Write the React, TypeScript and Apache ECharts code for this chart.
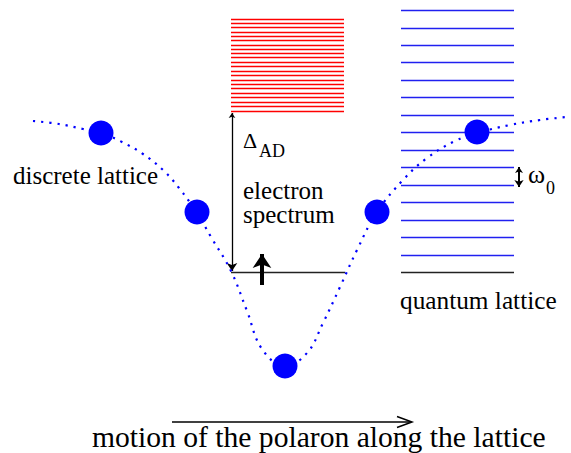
import React, { useEffect, useRef } from "react";
import * as echarts from "echarts";

// Diagram coordinates (x to the right, y downward)
const wellCurve: number[][] = [
  [33, 121], [59, 124], [83, 129], [101, 133], [122, 142], [143, 154], [163, 170],
  [179, 188], [197, 213], [211, 237], [231, 271], [247, 311], [262, 349], [285, 366],
  [307, 353], [323, 323], [340, 287], [357, 250], [377, 212], [403, 180], [427, 158],
  [455, 141], [477, 133], [510, 125], [540, 120], [567, 117],
];
const latticeSites: number[][] = [
  [101, 133], [197, 212], [285, 366], [377, 212], [477, 132],
];
const electronLevels: number[] = [
  19, 23.3, 27.7, 32, 36.3, 40.7, 45, 49.3, 53.3, 57.7, 62.3, 66.7, 71, 75.3, 80,
  84.3, 88.7, 93, 97.7, 102, 106.3, 111,
];
const electronRange: number[] = [231, 344];
const phononLevels: number[] = [
  10.7, 28, 45.3, 62.7, 80.3, 97.7, 115.3, 132.7, 150.3, 167.7, 185, 202.7, 220, 237.7, 255,
];
const phononRange: number[] = [401, 514];
const groundLevel = 272.7;
const gapArrow: number[][] = [[232, 113], [232, 271]];
const electronArrow: number[][] = [[262, 285], [262, 254]];
const omegaArrow: number[][] = [[519, 167], [519, 187]];
const motionArrow: number[][] = [[172, 422], [411, 422]];
const motionHead: number[][] = [[397, 416.5], [412, 422], [397, 427.5]];

const FONT = "Liberation Serif";

function levelLines(levels: number[], range: number[]) {
  return levels.map((y) => ({ coords: [[range[0], y], [range[1], y]] }));
}

function txt(text: string, x: number, y: number, size: number, lineHeight?: number) {
  return {
    type: "text",
    x,
    y,
    style: {
      text,
      fontSize: size,
      fontFamily: FONT,
      fill: "#000",
      textAlign: "left",
      textVerticalAlign: "middle",
      align: "left",
      verticalAlign: "middle",
      lineHeight: lineHeight ?? size,
    },
  };
}

export default function App() {
  const ref = useRef<HTMLDivElement>(null);
  useEffect(() => {
    if (!ref.current) return;
    const chart = echarts.init(ref.current, undefined, { renderer: "svg" });
    chart.setOption({
      animation: false,
      backgroundColor: "#fff",
      grid: { left: 0, right: 0, top: 0, bottom: 0 },
      xAxis: { type: "value", min: 0, max: 571, show: false },
      yAxis: { type: "value", min: 0, max: 453, inverse: true, show: false },
      series: [
        {
          type: "lines",
          coordinateSystem: "cartesian2d",
          silent: true,
          lineStyle: { color: "#ff0000", width: 1.3, opacity: 1 },
          data: levelLines(electronLevels, electronRange),
        },
        {
          type: "lines",
          coordinateSystem: "cartesian2d",
          silent: true,
          lineStyle: { color: "#2020f0", width: 1.3, opacity: 1 },
          data: levelLines(phononLevels, phononRange),
        },
        {
          type: "lines",
          coordinateSystem: "cartesian2d",
          silent: true,
          lineStyle: { color: "#222", width: 1.3, opacity: 1 },
          data: [
            { coords: [[electronRange[0], groundLevel], [electronRange[1] + 1, groundLevel]] },
            { coords: [[phononRange[0], groundLevel], [phononRange[1], groundLevel]] },
          ],
        },
        {
          type: "lines",
          coordinateSystem: "cartesian2d",
          silent: true,
          symbol: ["arrow", "arrow"],
          symbolSize: [5, 8],
          lineStyle: { color: "#000", width: 1.3, opacity: 1 },
          data: [{ coords: gapArrow }],
        },
        {
          type: "lines",
          coordinateSystem: "cartesian2d",
          silent: true,
          symbol: ["arrow", "arrow"],
          symbolSize: [6, 7],
          lineStyle: { color: "#000", width: 2, opacity: 1 },
          data: [{ coords: omegaArrow }],
        },
        {
          type: "lines",
          coordinateSystem: "cartesian2d",
          silent: true,
          symbol: ["none", "arrow"],
          symbolSize: [12, 14],
          lineStyle: { color: "#000", width: 4, opacity: 1 },
          data: [{ coords: electronArrow }],
        },
        {
          type: "lines",
          coordinateSystem: "cartesian2d",
          polyline: true,
          silent: true,
          lineStyle: { color: "#000", width: 1.5, opacity: 1 },
          data: [{ coords: motionArrow }, { coords: motionHead }],
        },
        {
          type: "line",
          smooth: 0.4,
          silent: true,
          symbol: "none",
          data: wellCurve,
          lineStyle: { color: "#0000ff", width: 2.2, type: [2.2, 6] },
          z: 3,
        },
        {
          type: "scatter",
          silent: true,
          symbolSize: 25,
          itemStyle: { color: "#0000ff", opacity: 1 },
          data: latticeSites,
          z: 5,
        },
      ],
      graphic: [
        txt("discrete lattice", 13, 175, 25),
        txt("Δ", 243, 140.5, 22),
        txt("AD", 259, 151, 18),
        txt("electron\nspectrum", 243, 202.5, 25, 24),
        txt("quantum lattice", 400, 299.5, 25.3),
        txt("ω", 528, 174, 26),
        txt("0", 546, 188, 18),
        txt("motion of the polaron along the lattice", 92, 437, 29.6),
      ],
    });
    return () => chart.dispose();
  }, []);
  return (
    <div
      ref={ref}
      style={{ position: "absolute", left: 0, top: 0, width: 571, height: 453 }}
    />
  );
}
